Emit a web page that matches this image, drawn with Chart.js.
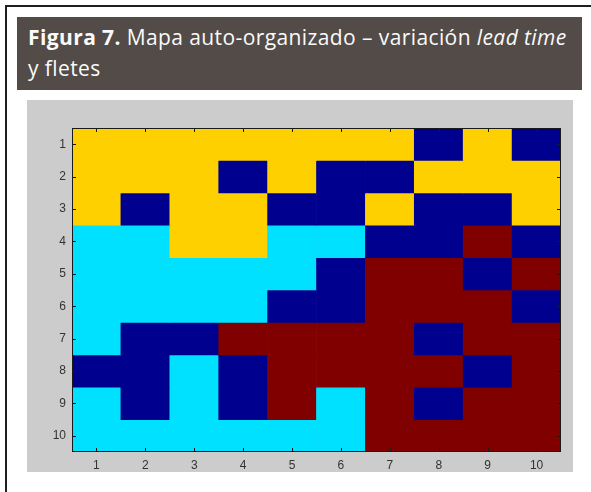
<!DOCTYPE html>
<html>
<head>
<meta charset="utf-8">
<script src="https://cdn.jsdelivr.net/npm/chart.js@4"></script>
<style>
  html, body { margin: 0; padding: 0; background: #fff; }
  body { width: 591px; height: 492px; position: relative; overflow: hidden; }
  .frame-top { position: absolute; left: 5px; top: 5px; width: 586px; height: 2px; background: #231f20; }
  .frame-left { position: absolute; left: 5px; top: 5px; width: 2px; height: 487px; background: #231f20; }
  .title {
    position: absolute; left: 17px; top: 17px; width: 565px; height: 73px;
    background: #524b47; color: #fafafa; box-sizing: border-box;
    padding: 5px 0 0 11px; white-space: nowrap;
    font-family: "Open Sans", sans-serif; font-size: 21px; line-height: 31px;
    letter-spacing: 0.4px;
  }
  .title b { font-weight: 700; }
  .panel { position: absolute; left: 27px; top: 100px; width: 546px; height: 372px; background: #cccccc; }
</style>
</head>
<body>
<div class="frame-top"></div>
<div class="frame-left"></div>
<div class="title"><b>Figura 7.</b> Mapa auto-organizado – variación <i>lead time</i><br>y fletes</div>
<div class="panel"><canvas id="som" width="546" height="372"></canvas></div>
<script>
// map grid, rows 1..10 top to bottom, columns 1..10
const columns = ["1", "2", "3", "4", "5", "6", "7", "8", "9", "10"];
const rowTicks = [1, 2, 3, 4, 5, 6, 7, 8, 9, 10];
// Y = yellow, B = navy, C = cyan, R = maroon
const row1  = ["Y", "Y", "Y", "Y", "Y", "Y", "Y", "B", "Y", "B"];
const row2  = ["Y", "Y", "Y", "B", "Y", "B", "B", "Y", "Y", "Y"];
const row3  = ["Y", "B", "Y", "Y", "B", "B", "Y", "B", "B", "Y"];
const row4  = ["C", "C", "Y", "Y", "C", "C", "B", "B", "R", "B"];
const row5  = ["C", "C", "C", "C", "C", "B", "R", "R", "B", "R"];
const row6  = ["C", "C", "C", "C", "B", "B", "R", "R", "R", "B"];
const row7  = ["C", "B", "B", "R", "R", "R", "R", "B", "R", "R"];
const row8  = ["B", "B", "C", "B", "R", "R", "R", "R", "B", "R"];
const row9  = ["C", "B", "C", "B", "R", "C", "R", "B", "R", "R"];
const row10 = ["C", "C", "C", "C", "C", "C", "R", "R", "R", "R"];
const rows = [row1, row2, row3, row4, row5, row6, row7, row8, row9, row10];

const palette = { Y: "#ffd000", B: "#00008f", C: "#00e0ff", R: "#800000" };

const datasets = rows.map((row, i) => ({
  label: "fila " + (i + 1),
  data: row.map(() => [i + 0.5, i + 1.5]),
  backgroundColor: row.map(k => palette[k]),
  borderWidth: 0,
  grouped: false,
  barPercentage: 1,
  categoryPercentage: 1
}));

const frameAndTicks = {
  id: "frameAndTicks",
  afterDatasetsDraw(chart) {
    const { ctx, chartArea: a, scales } = chart;
    ctx.save();
    ctx.strokeStyle = "#1a1a1a";
    ctx.lineWidth = 1;
    ctx.beginPath();
    columns.forEach((c, i) => {
      const x = Math.round(scales.x.getPixelForValue(i)) + 0.5;
      ctx.moveTo(x, a.bottom); ctx.lineTo(x, a.bottom - 4);
      ctx.moveTo(x, a.top); ctx.lineTo(x, a.top + 4);
    });
    rowTicks.forEach(v => {
      const y = Math.round(scales.y.getPixelForValue(v)) + 0.5;
      ctx.moveTo(a.left, y); ctx.lineTo(a.left + 4, y);
      ctx.moveTo(a.right, y); ctx.lineTo(a.right - 4, y);
    });
    ctx.stroke();
    ctx.strokeRect(Math.round(a.left) + 0.5, Math.round(a.top) + 0.5,
      Math.round(a.right - a.left) - 1, Math.round(a.bottom - a.top) - 1);
    ctx.restore();
  }
};

new Chart(document.getElementById("som"), {
  type: "bar",
  data: { labels: columns, datasets },
  options: {
    responsive: false,
    animation: false,
    layout: { padding: { left: 0, top: 28, right: 12, bottom: 0 } },
    plugins: { legend: { display: false }, tooltip: { enabled: false } },
    scales: {
      x: {
        grid: { display: false, drawTicks: false },
        border: { display: false },
        ticks: { color: "#333", padding: 6, font: { family: "Liberation Sans", size: 12 } },
        afterFit(s) { s.height = 20; }
      },
      y: {
        type: "linear",
        reverse: true,
        min: 0.5,
        max: 10.5,
        grid: { display: false, drawTicks: false },
        border: { display: false },
        afterBuildTicks(s) { s.ticks = rowTicks.map(v => ({ value: v })); },
        ticks: { color: "#333", padding: 6, font: { family: "Liberation Sans", size: 12 } },
        afterFit(s) { s.width = 45; }
      }
    }
  },
  plugins: [frameAndTicks]
});
</script>
</body>
</html>
